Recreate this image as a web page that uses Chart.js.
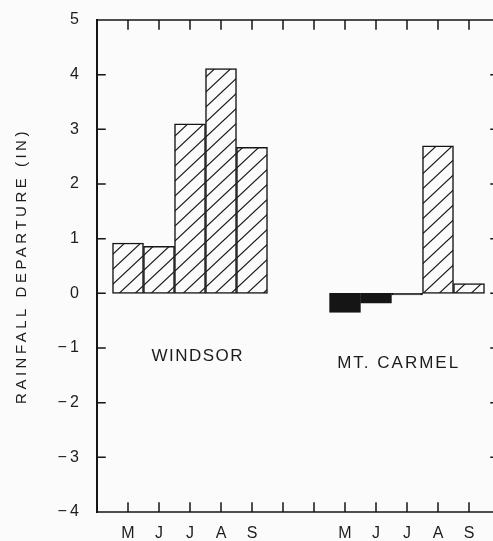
<!DOCTYPE html>
<html>
<head>
<meta charset="utf-8">
<script src="https://cdn.jsdelivr.net/npm/chart.js@4"></script>
<style>
  html, body { margin: 0; padding: 0; background: #fbfbfb; overflow: hidden; }
  canvas { display: block; }
</style>
</head>
<body>
<canvas id="rain" width="502" height="541"></canvas>
<script>
// months shown under each station block
const months = ['M', 'J', 'J', 'A', 'S'];
// rainfall departure in inches, May..Sep
const windsor = [0.92, 0.86, 3.1, 4.11, 2.67];
const mtCarmel = [-0.35, -0.18, -0.03, 2.7, 0.18];
const yTicks = [-4, -3, -2, -1, 0, 1, 2, 3, 4, 5];
const stationNames = ['WINDSOR', 'MT. CARMEL'];

// one blank slot at each end, two blank slots between the stations
const categories = ['', ...months, '', '', ...months, ''];
const windsorData = [null, ...windsor, null, null, null, null, null, null, null, null];
const carmelData = [null, null, null, null, null, null, null, null, ...mtCarmel, null];

const ink = '#151515';
const font = 'Liberation Sans, Arial, sans-serif';

function hatch() {
  const w = 16, h = 15;
  const c = document.createElement('canvas');
  c.width = w; c.height = h;
  const g = c.getContext('2d');
  g.fillStyle = '#fbfbfb';
  g.fillRect(0, 0, w, h);
  g.strokeStyle = ink;
  g.lineWidth = 1.2;
  for (const k of [-1, 0, 1]) {
    g.beginPath();
    g.moveTo(k * w - w, 2 * h);
    g.lineTo(k * w + 2 * w, -h);
    g.stroke();
  }
  return g.createPattern(c, 'repeat');
}
const pattern = hatch();
const fills = arr => arr.map(v => (v !== null && v < 0) ? ink : pattern);

const frame = {
  id: 'frame',
  afterDatasetsDraw(chart) {
    const { ctx, chartArea: a, scales: { x, y } } = chart;
    ctx.save();
    ctx.strokeStyle = ink;
    ctx.lineCap = 'square';
    ctx.lineWidth = 2;
    ctx.beginPath();
    ctx.moveTo(a.left, a.top); ctx.lineTo(a.left, a.bottom);
    ctx.stroke();
    ctx.lineWidth = 1.5;
    ctx.beginPath();
    ctx.moveTo(a.left, a.top); ctx.lineTo(a.right, a.top);
    ctx.moveTo(a.left, a.bottom); ctx.lineTo(a.right, a.bottom);
    ctx.moveTo(a.right, a.top); ctx.lineTo(a.right, a.bottom);
    // category ticks, pointing inward
    for (let i = 1; i < categories.length - 1; i++) {
      const px = x.getPixelForValue(i);
      ctx.moveTo(px, a.top); ctx.lineTo(px, a.top + 9);
      ctx.moveTo(px, a.bottom); ctx.lineTo(px, a.bottom - 9);
    }
    // value ticks
    yTicks.slice(1, -1).forEach(v => {
      const py = y.getPixelForValue(v);
      ctx.moveTo(a.left, py); ctx.lineTo(a.left + 8, py);
      ctx.moveTo(a.right, py); ctx.lineTo(a.right - 9, py);
    });
    ctx.stroke();

    ctx.fillStyle = '#1c1c1c';
    ctx.textAlign = 'center';
    ctx.textBaseline = 'middle';
    ctx.font = '17px ' + font;
    ctx.letterSpacing = '1.5px';
    ctx.fillText(stationNames[0], x.getPixelForValue(3.25), y.getPixelForValue(-1.15));
    ctx.letterSpacing = '2px';
    ctx.fillText(stationNames[1], x.getPixelForValue(9.73), y.getPixelForValue(-1.28));

    ctx.font = '15px ' + font;
    ctx.letterSpacing = '3.5px';
    ctx.translate(22, (a.top + a.bottom) / 2);
    ctx.rotate(-Math.PI / 2);
    ctx.fillText('RAINFALL DEPARTURE (IN)', 0, 0);
    ctx.restore();
  }
};

new Chart(document.getElementById('rain'), {
  type: 'bar',
  data: {
    labels: categories,
    datasets: [
      {
        label: stationNames[0],
        data: windsorData,
        backgroundColor: fills(windsorData),
        borderColor: ink,
        borderWidth: 1.5,
        borderSkipped: false,
        grouped: false,
        barPercentage: 1,
        categoryPercentage: 1
      },
      {
        label: stationNames[1],
        data: carmelData,
        backgroundColor: fills(carmelData),
        borderColor: ink,
        borderWidth: 1.5,
        borderSkipped: false,
        grouped: false,
        barPercentage: 1,
        categoryPercentage: 1
      }
    ]
  },
  options: {
    responsive: false,
    animation: false,
    layout: { padding: { top: 20, right: 2, left: 0, bottom: 0 } },
    plugins: { legend: { display: false }, tooltip: { enabled: false } },
    scales: {
      x: {
        type: 'category',
        offset: false,
        grid: { display: false, drawTicks: false },
        border: { display: false },
        ticks: {
          autoSkip: false,
          maxRotation: 0,
          padding: 12,
          color: '#1c1c1c',
          font: { family: font, size: 16 }
        },
        afterFit: s => { s.height = 29; s.paddingLeft = 0; s.paddingRight = 0; }
      },
      y: {
        min: -4,
        max: 5,
        grid: { display: false, drawTicks: false },
        border: { display: false },
        afterBuildTicks: s => { s.ticks = yTicks.map(v => ({ value: v })); },
        ticks: {
          padding: 18,
          color: '#1c1c1c',
          font: { family: font, size: 16 },
          callback: v => v < 0 ? '\u2212\u2009' + (-v) : String(v)
        },
        afterFit: s => { s.width = 97; s.paddingTop = 0; s.paddingBottom = 0; }
      }
    }
  },
  plugins: [frame]
});
</script>
</body>
</html>
